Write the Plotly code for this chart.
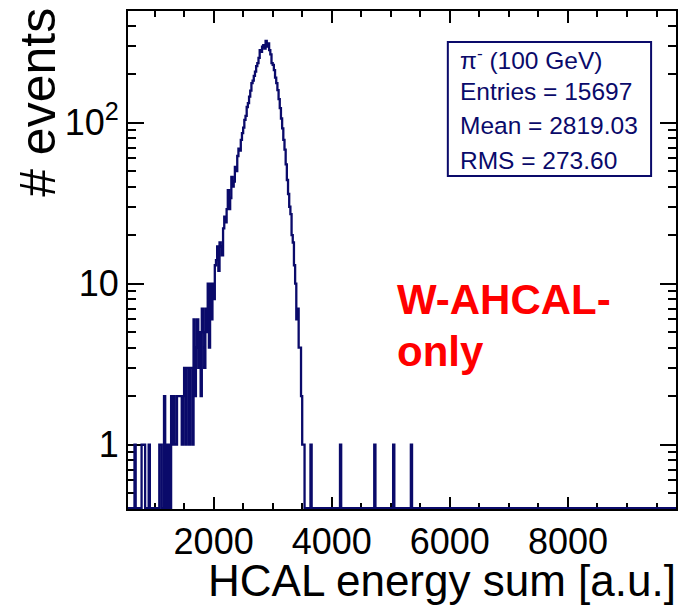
import numpy as np
import plotly.graph_objects as go

# ---------------- data ----------------
bin_width = 20
hist_lo, hist_hi = 540, 9860

core_start = 1500
core_counts = [
    3, 1, 3, 3, 1, 3, 3, 1, 6, 2, 4, 6, 3, 5, 2, 7, 5, 3, 7, 5,            # 1500-1880
    10, 4, 10, 6, 10, 8, 13, 14, 17, 12, 18, 17, 15, 22, 26, 24, 29, 38, 29, 34,   # 1900-2280
    46, 40, 43, 53, 50, 62, 69, 67, 78, 86, 93, 104, 110, 125, 132, 145, 158, 176, 182, 195,  # 2300-2680
    207, 224, 234, 252, 282, 275, 296, 303, 288, 322, 296, 310, 282, 265, 234, 228, 212, 190, 176, 159,  # 2700-3080
    140, 123, 106, 92, 78, 68, 55, 44, 36, 30, 27, 20, 18, 13, 10, 6, 7, 4, 4, 2,  # 3100-3480
    1, 1,                                                                   # 3500-3520
]
tail_bins = [660, 780, 800, 820, 900, 1080, 1100, 1160, 1200, 1240, 1280, 1300, 1320,
             1340, 1360, 1380, 1400, 1420, 1440, 1460, 1480,
             3640, 4140, 4720, 5040, 5340]
tail_counts = [1, 1, 1, 1, 1, 1, 1, 2, 1, 1, 2, 1, 2,
               1, 1, 2, 2, 2, 2, 1, 2,
               1, 1, 1, 1, 1]

x_tick_vals = [2000, 4000, 6000, 8000]
y_tick_vals = [1, 10, 100]
y_tick_text = ["1", "10", "10<sup>2</sup>"]
y_minor_vals = [0.5, 0.6, 0.7, 0.8, 0.9, 2, 3, 4, 5, 6, 7, 8, 9,
                20, 30, 40, 50, 60, 70, 80, 90, 200, 300, 400]

stats_lines = ["π<sup>-</sup> (100 GeV)", "Entries = 15697", "Mean = 2819.03", "RMS = 273.60"]
label_lines = ["W-AHCAL-", "only"]

# ---------------- build histogram ----------------
nb = (hist_hi - hist_lo) // bin_width
counts = np.zeros(nb)
i0 = (core_start - hist_lo) // bin_width
for i, c in enumerate(core_counts):
    counts[i0 + i] = c
for b, c in zip(tail_bins, tail_counts):
    counts[(b - hist_lo) // bin_width] = c

edges = hist_lo + bin_width * np.arange(nb + 1)
floor = 10 ** (-0.394)
yv = np.where(counts > 0, counts, floor)
yv = np.append(yv, yv[-1])

NAVY = "#0a0a6a"
FONT = "Liberation Sans, Arial, sans-serif"

fig = go.Figure()
fig.add_trace(go.Scatter(x=edges, y=yv, mode="lines", line=dict(color=NAVY, width=2.3, shape="hv"),
                         hoverinfo="skip", showlegend=False))

# layout geometry (pixels)
L, R, T, B = 128, 5, 11, 96
W, H = 683, 605
PW, PH = W - L - R, H - T - B


def px(x):
    return (x - L) / PW


def py(y):
    return (H - B - y) / PH


fig.update_layout(
    width=W, height=H,
    margin=dict(l=L, r=R, t=T, b=B, pad=0),
    paper_bgcolor="white", plot_bgcolor="white",
    font=dict(family=FONT, color="black"),
    showlegend=False,
)

fig.update_xaxes(
    range=[550, 9830], showgrid=False, zeroline=False,
    tickmode="array", tickvals=x_tick_vals,
    ticks="inside", ticklen=12, tickwidth=2, tickcolor="black",
    showline=True, linewidth=2, linecolor="black", mirror="ticks",
    tickfont=dict(size=36, family=FONT, color="black"),
    minor=dict(ticks="inside", ticklen=6, tickwidth=2, tickcolor="black", dtick=500, tick0=0),
    layer="below traces",
)
fig.update_yaxes(
    type="log", range=[-0.40, 2.693], showgrid=False, zeroline=False,
    tickmode="array", tickvals=y_tick_vals, ticktext=y_tick_text,
    ticks="inside", ticklen=16, tickwidth=2, tickcolor="black",
    showline=True, linewidth=2, linecolor="black", mirror="ticks",
    tickfont=dict(size=36, family=FONT, color="black"),
    minor=dict(ticks="inside", ticklen=8, tickwidth=2, tickcolor="black",
               tickmode="array", tickvals=y_minor_vals),
    layer="below traces",
)

# stats box
fig.add_shape(type="rect", xref="paper", yref="paper",
              x0=px(449), x1=px(653), y0=py(176), y1=py(42),
              line=dict(color=NAVY, width=2), fillcolor="white", layer="above")
for txt, ycap in zip(stats_lines, [58.7, 91.4, 125.7, 160.5]):
    fig.add_annotation(xref="paper", yref="paper", x=px(459), y=py(ycap),
                       xanchor="left", yanchor="middle", showarrow=False,
                       text=txt, font=dict(size=24.5, color=NAVY, family=FONT))

# red label
for txt, ycap in zip(label_lines, [299, 351]):
    fig.add_annotation(xref="paper", yref="paper", x=px(396), y=py(ycap),
                       xanchor="left", yanchor="middle", showarrow=False,
                       text="<b>" + txt + "</b>", font=dict(size=42, color="#ff0000", family=FONT))

# axis titles
fig.add_annotation(xref="paper", yref="paper", x=px(680), y=py(580),
                   xanchor="right", yanchor="middle", showarrow=False,
                   text="HCAL energy sum [a.u.]", font=dict(size=44, color="black", family=FONT))
fig.add_annotation(xref="paper", yref="paper", x=px(37), y=py(6),
                   xanchor="center", yanchor="top", showarrow=False, textangle=-90,
                   text="# events", font=dict(size=50, color="black", family=FONT))

fig.write_html("out.html")
